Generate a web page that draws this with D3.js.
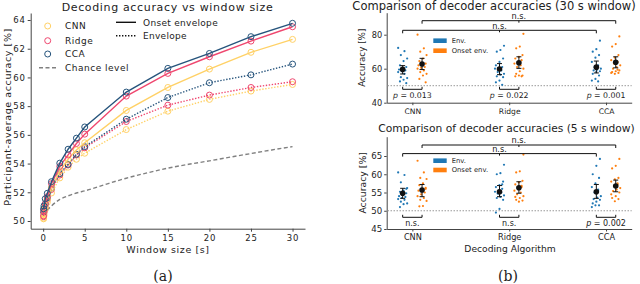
<!DOCTYPE html>
<html>
<head>
<meta charset="utf-8">
<script src="https://cdn.jsdelivr.net/npm/d3@7"></script>
<style>
  body { margin: 0; background: #fff; }
  svg { font-family: "DejaVu Sans", sans-serif; }
</style>
</head>
<body>
<div id="chart"></div>
<script>
// ---- panel (a) data ----
const windowSizes = [0.05, 0.1, 0.25, 0.5, 1, 2, 3, 4, 5, 10, 15, 20, 25, 30];
const cnnOnset   = [50.2, 50.5, 51.0, 51.5, 52.3, 53.5, 54.3, 54.95, 55.45, 57.7, 59.3, 60.58, 61.75, 62.65];
const ridgeOnset = [50.35, 50.7, 51.2, 51.7, 52.6, 53.8, 54.6, 55.4, 56.05, 58.7, 60.28, 61.44, 62.53, 63.53];
const ccaOnset   = [50.85, 51.05, 51.55, 51.93, 52.74, 54.03, 55.0, 55.77, 56.55, 58.98, 60.63, 61.67, 62.84, 63.77];
const cnnEnv     = [50.15, 50.4, 50.8, 51.3, 51.95, 53.0, 53.75, 54.3, 54.72, 56.37, 57.65, 58.47, 59.05, 59.51];
const ridgeEnv   = [50.3, 50.6, 51.0, 51.5, 52.2, 53.2, 53.9, 54.6, 55.1, 56.93, 58.07, 58.77, 59.3, 59.7];
const ccaEnv     = [50.6, 50.8, 51.2, 51.6, 52.3, 53.3, 53.95, 54.65, 55.18, 57.09, 58.6, 59.63, 60.18, 60.93];
const chanceX    = [0.1, 0.5, 1, 2, 3, 4, 5, 7.5, 10, 12.5, 15, 17.5, 20, 22.5, 25, 27.5, 30];
const chanceY    = [50.35, 50.75, 51.05, 51.5, 51.75, 51.95, 52.1, 52.55, 52.98, 53.35, 53.68, 53.95, 54.19, 54.45, 54.7, 54.95, 55.18];
const xTicksA = [0, 5, 10, 15, 20, 25, 30];
const yTicksA = [50, 52, 54, 56, 58, 60, 62, 64];

// ---- panel (b) data ----
const algorithms = ["CNN", "Ridge", "CCA"];
const env30 = [
  [72.2, 70.3, 68.0, 66.0, 64.5, 62.0, 61.0, 60.0, 59.5, 59.0, 58.5, 58.0, 57.0, 55.0, 54.5, 53.5, 52.5, 51.5],
  [73.5, 71.0, 70.0, 66.0, 64.0, 62.0, 61.0, 60.5, 60.0, 59.0, 58.0, 57.0, 56.5, 55.5, 55.0, 53.0, 52.0, 50.5],
  [76.5, 71.5, 70.0, 68.0, 66.5, 64.0, 62.0, 61.0, 60.0, 59.5, 59.0, 58.5, 58.0, 57.0, 56.0, 54.0, 53.0, 52.5]
];
const onset30 = [
  [80.0, 72.0, 70.0, 68.0, 66.0, 64.5, 63.0, 62.5, 62.0, 61.0, 60.5, 60.0, 59.0, 58.0, 57.0, 56.0, 54.0, 52.0],
  [80.5, 73.0, 72.0, 68.0, 67.0, 66.0, 65.0, 64.0, 63.0, 62.0, 61.0, 60.0, 58.5, 57.0, 56.0, 56.0, 55.5, 55.5],
  [79.0, 74.5, 73.0, 68.0, 66.5, 65.0, 64.0, 63.0, 62.0, 61.0, 60.0, 59.0, 58.5, 58.0, 57.5, 57.0, 57.5, 59.5]
];
const env5 = [
  [60.5, 59.8, 57.8, 56.2, 55.5, 55.2, 54.8, 54.5, 54.0, 53.8, 53.5, 53.2, 53.0, 52.5, 52.0, 51.8, 51.0, 56.0],
  [62.6, 60.3, 60.0, 58.0, 57.0, 56.5, 56.0, 55.5, 55.2, 55.0, 54.7, 54.2, 53.8, 53.5, 53.0, 50.5, 49.5, 57.2],
  [64.2, 62.3, 60.0, 59.0, 57.5, 56.5, 55.8, 55.0, 54.0, 53.6, 53.2, 53.0, 52.5, 52.0, 51.5, 51.5, 51.0, 55.5]
];
const onset5 = [
  [63.7, 60.5, 59.0, 58.7, 57.5, 57.0, 56.3, 55.8, 55.5, 55.0, 54.5, 54.0, 53.5, 53.0, 52.7, 51.3, 51.2, 56.0],
  [65.4, 60.8, 60.5, 58.2, 57.8, 57.2, 56.5, 56.0, 55.5, 55.0, 54.5, 54.0, 53.5, 53.0, 52.8, 52.5, 53.8, 56.8],
  [64.2, 62.3, 61.6, 59.0, 58.6, 58.0, 57.2, 56.8, 56.2, 55.8, 55.4, 55.0, 54.0, 53.5, 53.2, 52.6, 54.5, 57.5]
];
// mean, lower, upper of error bars
const envMean30 = [59.6, 59.8, 60.9], envLo30 = [56.9, 56.5, 57.5], envHi30 = [61.8, 63.0, 64.5];
const onsMean30 = [62.8, 63.5, 63.8], onsLo30 = [59.5, 60.2, 60.5], onsHi30 = [66.1, 67.0, 67.0];
const envMean5 = [54.8, 55.2, 55.2], envLo5 = [53.4, 53.85, 53.4], envHi5 = [56.15, 56.9, 57.2];
const onsMean5 = [55.7, 56.3, 56.8], onsLo5 = [53.85, 54.8, 55.2], onsHi5 = [57.2, 57.95, 58.4];
const pLabels30 = ["p = 0.013", "p = 0.022", "p = 0.001"];
const pLabels5 = ["n.s.", "n.s.", "p = 0.002"];
const yTicks30 = [40, 60, 80];
const yTicks5 = [45, 50, 55, 60, 65];

const svg = d3.select("#chart").append("svg")
  .attr("width", 640).attr("height", 284);

const ink = "#222";

function styleAxis(g, fs, ls) {
  g.selectAll(".domain").attr("stroke", "#444").attr("stroke-width", 1);
  g.selectAll(".tick line").attr("stroke", "#444");
  g.selectAll(".tick text").attr("fill", ink).style("font-size", fs + "px")
    .style("letter-spacing", ls + "px").style("font-family", "DejaVu Sans");
}

// ================= Panel (a) =================
const xA = d3.scaleLinear().domain([-1.5, 31.5]).range([30.7, 305]);
const yA = d3.scaleLinear().domain([49.464, 64.488]).range([228.7, 13]);

svg.append("g").attr("transform", "translate(0,228.7)")
  .call(d3.axisBottom(xA).tickValues(xTicksA).tickSize(3).tickSizeOuter(0).tickPadding(3))
  .call(g => styleAxis(g, 8.5, 0.8));
svg.append("g").attr("transform", "translate(30.7,0)")
  .call(d3.axisLeft(yA).tickValues(yTicksA).tickSize(3).tickSizeOuter(0).tickPadding(2))
  .call(g => styleAxis(g, 8.5, 0.8));

const colCNN = "#ffd166", colRidge = "#ef476f", colCCA = "#26547c";
const seriesA = [
  { ys: cnnEnv, c: colCNN, dash: "1.4,1.6" },
  { ys: ridgeEnv, c: colRidge, dash: "1.4,1.6" },
  { ys: ccaEnv, c: colCCA, dash: "1.4,1.6" },
  { ys: cnnOnset, c: colCNN, dash: null },
  { ys: ridgeOnset, c: colRidge, dash: null },
  { ys: ccaOnset, c: colCCA, dash: null }
];

// chance level
svg.append("path")
  .datum(chanceX.map((x, i) => [x, chanceY[i]]))
  .attr("fill", "none").attr("stroke", "#808080").attr("stroke-width", 1.4)
  .attr("stroke-dasharray", "4,2.5")
  .attr("d", d3.line().x(d => xA(d[0])).y(d => yA(d[1])).curve(d3.curveMonotoneX));

seriesA.forEach(s => {
  const pts = windowSizes.map((x, i) => [x, s.ys[i]]);
  svg.append("path").datum(pts)
    .attr("fill", "none").attr("stroke", s.c).attr("stroke-width", 1.4)
    .attr("stroke-dasharray", s.dash)
    .attr("d", d3.line().x(d => xA(d[0])).y(d => yA(d[1])));
  svg.append("g").selectAll("circle").data(pts).join("circle")
    .attr("cx", d => xA(d[0])).attr("cy", d => yA(d[1])).attr("r", 3)
    .attr("fill", "none").attr("stroke", s.c).attr("stroke-width", 1);
});

// legend (a)
const legA = svg.append("g").style("font-size", "9px").attr("fill", ink);
[["CNN", colCNN, 26], ["Ridge", colRidge, 40.7], ["CCA", colCCA, 54]].forEach(([t, c, y]) => {
  legA.append("circle").attr("cx", 47.7).attr("cy", y).attr("r", 3)
    .attr("fill", "none").attr("stroke", c).attr("stroke-width", 1);
  legA.append("text").attr("x", 65).attr("y", y + 3.2).style("letter-spacing", "0.5px").text(t);
});
legA.append("line").attr("x1", 39).attr("x2", 56).attr("y1", 67.7).attr("y2", 67.7)
  .attr("stroke", "#808080").attr("stroke-width", 1.4).attr("stroke-dasharray", "4,2.5");
legA.append("text").attr("x", 65).attr("y", 70.9).style("letter-spacing", "0.5px").text("Chance level");
legA.append("line").attr("x1", 116).attr("x2", 136).attr("y1", 22.3).attr("y2", 22.3)
  .attr("stroke", "#111").attr("stroke-width", 1.4);
legA.append("text").attr("x", 143).attr("y", 25.5).style("letter-spacing", "0.3px").text("Onset envelope");
legA.append("line").attr("x1", 116).attr("x2", 136).attr("y1", 35.7).attr("y2", 35.7)
  .attr("stroke", "#111").attr("stroke-width", 1.4).attr("stroke-dasharray", "1.4,1.6");
legA.append("text").attr("x", 143).attr("y", 38.9).style("letter-spacing", "0.3px").text("Envelope");

svg.append("text").attr("x", 167.5).attr("y", 10.5).attr("text-anchor", "middle")
  .style("font-size", "11px").style("letter-spacing", "0.65px").attr("fill", ink)
  .text("Decoding accuracy vs window size");
svg.append("text").attr("x", 168).attr("y", 253).attr("text-anchor", "middle")
  .style("font-size", "9.5px").style("letter-spacing", "0.6px").attr("fill", ink)
  .text("Window size [s]");
svg.append("text").attr("transform", "translate(11,117) rotate(-90)").attr("text-anchor", "middle")
  .style("font-size", "9.5px").style("letter-spacing", "0.6px").attr("fill", ink)
  .text("Participant-average accuracy [%]");
svg.append("text").attr("x", 163).attr("y", 281).attr("text-anchor", "middle")
  .style("font-family", "DejaVu Serif").style("font-size", "14px").attr("fill", ink).text("(a)");

// ================= Panel (b) =================
const xB = d3.scalePoint().domain(algorithms).range([386.7, 631.7]).padding(0.265);
const off = 9.7;
const colEnv = "#1f77b4", colOns = "#ff7f0e";

function jitter(i) { return (((i * 7) % 11) / 10 - 0.5) * 9; }

function drawPanel(cfg) {
  const y = d3.scaleLinear().domain(cfg.ydom).range(cfg.yrange);
  const yb = cfg.yrange[0];

  svg.append("g").attr("transform", `translate(0,${yb})`)
    .call(d3.axisBottom(xB).tickSize(2.5).tickSizeOuter(0).tickPadding(3))
    .call(g => styleAxis(g, cfg.catFs, 0));
  svg.append("g").attr("transform", "translate(386.7,0)")
    .call(d3.axisLeft(y).tickValues(cfg.ticks).tickSize(2.5).tickSizeOuter(0).tickPadding(2))
    .call(g => styleAxis(g, cfg.tickFs, 0));

  // chance line
  svg.append("line").attr("x1", 387.5).attr("x2", 631.7)
    .attr("y1", y(50)).attr("y2", y(50))
    .attr("stroke", "#999").attr("stroke-width", 1).attr("stroke-dasharray", "1.5,1.5");

  [[cfg.env, colEnv, -off], [cfg.ons, colOns, off]].forEach(([data, c, dx]) => {
    algorithms.forEach((a, k) => {
      svg.append("g").selectAll("circle").data(data[k]).join("circle")
        .attr("cx", (d, i) => xB(a) + dx + jitter(i + k * 3))
        .attr("cy", d => y(d)).attr("r", 1.1).attr("fill", c);
    });
  });

  // means with error bars
  [[cfg.envM, cfg.envL, cfg.envH, -off], [cfg.onsM, cfg.onsL, cfg.onsH, off]].forEach(([m, lo, hi, dx]) => {
    algorithms.forEach((a, k) => {
      const cx = xB(a) + dx;
      const g = svg.append("g").attr("stroke", "#111").attr("stroke-width", 1);
      g.append("line").attr("x1", cx).attr("x2", cx).attr("y1", y(lo[k])).attr("y2", y(hi[k]));
      g.append("line").attr("x1", cx - 2.5).attr("x2", cx + 2.5).attr("y1", y(lo[k])).attr("y2", y(lo[k]));
      g.append("line").attr("x1", cx - 2.5).attr("x2", cx + 2.5).attr("y1", y(hi[k])).attr("y2", y(hi[k]));
      svg.append("circle").attr("cx", cx).attr("cy", y(m[k])).attr("r", 2.8).attr("fill", "#111");
    });
  });

  // top brackets
  const br = (x1, xm, x2, yl, label) => {
    svg.append("path")
      .attr("d", `M${x1},${yl + 3}V${yl}H${x2}V${yl + 3}M${xm},${yl}V${yl + 2}`)
      .attr("fill", "none").attr("stroke", "#111").attr("stroke-width", 1);
    svg.append("text").attr("x", xm).attr("y", yl - 1.6).attr("text-anchor", "middle")
      .style("font-size", cfg.nsFs + "px").attr("fill", ink).text(label);
  };
  br(xB("CNN") + off, xB("Ridge") + off, xB("CCA") + off, cfg.br1, "n.s.");
  br(xB("CNN") - off, xB("Ridge") - off, xB("CCA") - off, cfg.br2, "n.s.");

  // pairwise brackets
  algorithms.forEach((a, k) => {
    const x1 = xB(a) - off, x2 = xB(a) + off, yl = cfg.pb;
    svg.append("path").attr("d", `M${x1},${yl - 2.5}V${yl}H${x2}V${yl - 2.5}`)
      .attr("fill", "none").attr("stroke", "#111").attr("stroke-width", 1);
    const lab = cfg.pl[k];
    const t = svg.append("text").attr("x", xB(a)).attr("y", yl + 9)
      .attr("text-anchor", "middle").style("font-size", cfg.pFs + "px").attr("fill", ink);
    if (lab.startsWith("p")) {
      t.append("tspan").style("font-style", "italic").text("p");
      t.append("tspan").text(lab.slice(1));
    } else t.text(lab);
  });

  // legend
  [["Env.", colEnv, cfg.leg], ["Onset env.", colOns, cfg.leg + cfg.legGap]].forEach(([t, c, yy]) => {
    svg.append("rect").attr("x", 433.3).attr("y", yy - 2.3).attr("width", 13.4).attr("height", 4.6).attr("fill", c);
    svg.append("text").attr("x", 451.7).attr("y", yy + 2.4).style("font-size", "6.8px").attr("fill", ink).text(t);
  });

  svg.append("text").attr("x", cfg.tx).attr("y", cfg.ty).attr("text-anchor", "middle")
    .style("font-size", cfg.titleFs + "px").attr("fill", ink).text(cfg.title);
  svg.append("text").attr("transform", `translate(${cfg.ylx},${(cfg.yrange[0] + cfg.yrange[1]) / 2}) rotate(-90)`)
    .attr("text-anchor", "middle").style("font-size", cfg.ylFs + "px").attr("fill", ink).text("Accuracy [%]");
}

drawPanel({
  ydom: [40, 92.94], yrange: [102.7, 12.7], ticks: yTicks30,
  env: env30, ons: onset30,
  envM: envMean30, envL: envLo30, envH: envHi30,
  onsM: onsMean30, onsL: onsLo30, onsH: onsHi30,
  br1: 20.7, br2: 30.3, pb: 89.3, pl: pLabels30,
  leg: 40.7, legGap: 10,
  title: "Comparison of decoder accuracies (30 s window)", tx: 494, ty: 9.5, titleFs: 11.5,
  ylx: 365, ylFs: 8.8, tickFs: 8.2, catFs: 7.6, nsFs: 8.2, pFs: 7.8
});
drawPanel({
  ydom: [45, 70.29], yrange: [229, 136.7], ticks: yTicks5,
  env: env5, ons: onset5,
  envM: envMean5, envL: envLo5, envH: envHi5,
  onsM: onsMean5, onsL: onsLo5, onsH: onsHi5,
  br1: 145, br2: 153.6, pb: 217.3, pl: pLabels5,
  leg: 160.7, legGap: 9.3,
  title: "Comparison of decoder accuracies (5 s window)", tx: 506.5, ty: 132.3, titleFs: 10.7,
  ylx: 366, ylFs: 9.3, tickFs: 8.6, catFs: 8.2, nsFs: 8.2, pFs: 8
});

svg.append("text").attr("x", 330 + 180).attr("y", 130 + 122).attr("text-anchor", "middle")
  .style("font-size", "9.2px").attr("fill", ink).text("Decoding Algorithm");
svg.append("text").attr("x", 508).attr("y", 281).attr("text-anchor", "middle")
  .style("font-family", "DejaVu Serif").style("font-size", "14px").attr("fill", ink).text("(b)");
</script>
</body>
</html>
